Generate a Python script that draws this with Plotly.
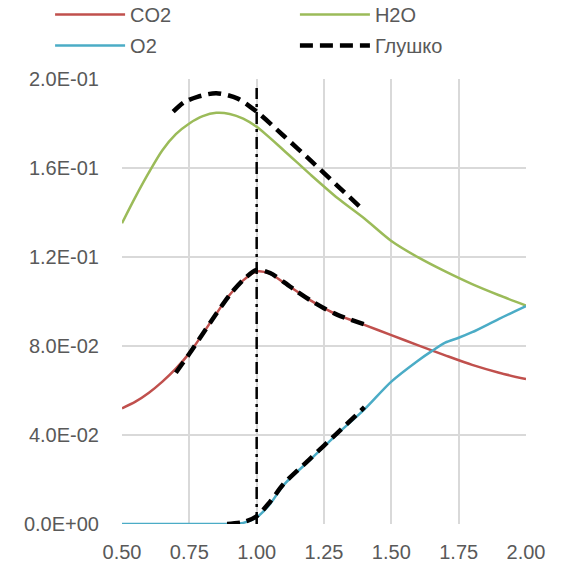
import plotly.graph_objects as go

# ---- data ----
x_h2o = [0.5, 0.55, 0.6, 0.65, 0.7, 0.75, 0.8, 0.85, 0.9, 0.95, 1.0, 1.1, 1.2, 1.3, 1.4, 1.5, 1.6, 1.7, 1.8, 1.9, 2.0]
y_h2o = [0.1352, 0.147, 0.158, 0.168, 0.1752, 0.180, 0.1833, 0.1848, 0.1843, 0.1822, 0.1785, 0.168, 0.157, 0.1465, 0.1373, 0.1272, 0.1198, 0.1135, 0.1078, 0.1028, 0.0982]

x_co2 = [0.5, 0.55, 0.6, 0.65, 0.7, 0.75, 0.8, 0.85, 0.9, 0.95, 1.0, 1.05, 1.1, 1.15, 1.2, 1.25, 1.3, 1.4, 1.5, 1.6, 1.7, 1.8, 1.9, 2.0]
y_co2 = [0.052, 0.055, 0.059, 0.064, 0.0698, 0.0768, 0.0855, 0.0945, 0.103, 0.1095, 0.1135, 0.1125, 0.1085, 0.1045, 0.1005, 0.097, 0.094, 0.0895, 0.0849, 0.0803, 0.0758, 0.0715, 0.068, 0.0651]

x_o2 = [0.5, 0.6, 0.7, 0.8, 0.9, 0.95, 1.0, 1.05, 1.1, 1.2, 1.3, 1.4, 1.5, 1.6, 1.65, 1.7, 1.75, 1.8, 1.9, 2.0]
y_o2 = [0.0, 0.0, 0.0, 0.0, 0.0, 0.0005, 0.003, 0.009, 0.0175, 0.029, 0.0405, 0.0515, 0.064, 0.0735, 0.0777, 0.0815, 0.0837, 0.0862, 0.0922, 0.0979]

# Glushko reference data (three fragments)
x_gl_h2o = [0.69, 0.73, 0.78, 0.85, 0.93, 1.0, 1.1, 1.2, 1.3, 1.4]
y_gl_h2o = [0.1853, 0.1895, 0.192, 0.1936, 0.1912, 0.1853, 0.1745, 0.1634, 0.152, 0.1407]
x_gl_co2 = [0.7, 0.75, 0.8, 0.85, 0.9, 0.95, 1.0, 1.05, 1.1, 1.15, 1.2, 1.25, 1.3, 1.4]
y_gl_co2 = [0.068, 0.0765, 0.0855, 0.0945, 0.103, 0.1097, 0.1142, 0.1128, 0.1088, 0.1045, 0.1005, 0.097, 0.094, 0.0897]
x_gl_o2 = [0.89, 0.95, 1.0, 1.05, 1.1, 1.2, 1.3, 1.4]
y_gl_o2 = [0.0, 0.0008, 0.0035, 0.010, 0.018, 0.0295, 0.041, 0.0525]

# stoichiometric marker
x_stoich = [1.0, 1.0]
y_stoich = [0.0, 0.196]

x_ticks = [0.5, 0.75, 1.0, 1.25, 1.5, 1.75, 2.0]
x_ticklabels = ["0.50", "0.75", "1.00", "1.25", "1.50", "1.75", "2.00"]
y_ticks = [0.0, 0.04, 0.08, 0.12, 0.16, 0.2]
y_ticklabels = ["0.0E+00", "4.0E-02", "8.0E-02", "1.2E-01", "1.6E-01", "2.0E-01"]

RED = "#C0504D"
GREEN = "#9BBB59"
BLUE = "#4BACC6"
GRID = "#D9D9D9"
TXT = "#595959"

fig = go.Figure()
fig.add_trace(go.Scatter(x=x_co2, y=y_co2, mode="lines", name="CO2", legend="legend", legendgroup="a",
                         line=dict(color=RED, width=2.5, shape="spline", smoothing=0.8)))
fig.add_trace(go.Scatter(x=x_h2o, y=y_h2o, mode="lines", name="H2O", legend="legend2", legendgroup="b",
                         line=dict(color=GREEN, width=2.5, shape="spline", smoothing=0.8)))
fig.add_trace(go.Scatter(x=x_o2, y=y_o2, mode="lines", name="O2", legend="legend", legendgroup="c",
                         line=dict(color=BLUE, width=2.5, shape="spline", smoothing=0.8)))

gx = x_gl_h2o + [None] + x_gl_co2 + [None] + x_gl_o2
gy = y_gl_h2o + [None] + y_gl_co2 + [None] + y_gl_o2
fig.add_trace(go.Scatter(x=gx, y=gy, mode="lines", name="Глушко", connectgaps=False,
                         legend="legend2", legendgroup="d",
                         line=dict(color="black", width=4.5, dash="13px,7px", shape="spline", smoothing=0.8)))

fig.add_trace(go.Scatter(x=x_stoich, y=y_stoich, mode="lines", showlegend=False,
                         line=dict(color="black", width=2.5, dash="12px,5px,3px,5px")))

leg_common = dict(orientation="v", yanchor="top", xanchor="left", itemwidth=70,
                  font=dict(size=20, color=TXT), bgcolor="rgba(0,0,0,0)", tracegroupgap=2)
fig.update_layout(
    width=561, height=570,
    margin=dict(l=122, r=35, t=79, b=46, autoexpand=False),
    paper_bgcolor="white", plot_bgcolor="white",
    font=dict(family="Liberation Sans, Arial, sans-serif", size=20, color=TXT),
    legend=dict(x=-0.178, y=1.189, **leg_common),
    legend2=dict(x=0.428, y=1.189, **leg_common),
    showlegend=True,
)
fig.update_xaxes(range=[0.5, 2.0], tickvals=x_ticks, ticktext=x_ticklabels,
                 showgrid=True, gridcolor=GRID, gridwidth=1.5, zeroline=False,
                 showline=False, ticks="", tickfont=dict(size=20, color=TXT), ticklabelstandoff=14)
fig.update_yaxes(range=[0, 0.2], tickvals=y_ticks, ticktext=y_ticklabels,
                 showgrid=True, gridcolor=GRID, gridwidth=1.5, zeroline=False,
                 showline=False, ticks="", tickfont=dict(size=20, color=TXT), ticklabelstandoff=22)

fig.write_html("out.html")
